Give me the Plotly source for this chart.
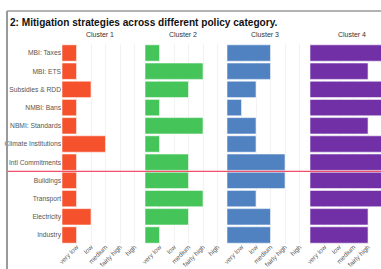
import plotly.graph_objects as go

categories = ["MBI: Taxes", "MBI: ETS", "Subsidies & RDD", "NMBI: Bans", "NBMI: Standards",
              "Climate Institutions", "Intl Commitments", "Buildings", "Transport",
              "Electricity", "Industry"]
level_labels = ["very low", "low", "medium", "fairly high", "high"]
level_values = [1, 2, 3, 4, 5]

cluster_names = ["Cluster 1", "Cluster 2", "Cluster 3", "Cluster 4"]
cluster1 = [1, 1, 2, 1, 1, 3, 1, 1, 1, 2, 1]
cluster2 = [1, 4, 3, 1, 4, 1, 3, 3, 4, 3, 1]
cluster3 = [3, 3, 2, 1, 2, 2, 4, 4, 2, 3, 3]
cluster4 = [5, 4, 5, 5, 4, 5, 5, 5, 5, 4, 4]
cluster_values = [cluster1, cluster2, cluster3, cluster4]
cluster_colors = ["#F4512C", "#45C45A", "#5082C2", "#7230A6"]

W, H = 381, 269
px_per_unit = 14.5
starts = [62, 145, 227, 310]
panel_w = 76

fig = go.Figure()
for i, (name, vals, col) in enumerate(zip(cluster_names, cluster_values, cluster_colors)):
    ax = "" if i == 0 else str(i + 1)
    fig.add_trace(go.Bar(
        x=vals, y=categories, orientation="h", name=name,
        marker=dict(color=col, line=dict(color="rgba(255,255,255,0.55)", width=1)),
        width=0.9, xaxis="x" + ax, yaxis="y", showlegend=False,
    ))
    x0 = starts[i] / W
    x1 = min((starts[i] + panel_w) / W, 1.0)
    rng_max = (min(starts[i] + panel_w, W) - starts[i]) / px_per_unit
    fig.layout["xaxis" + ax] = dict(
        domain=[x0, x1], range=[0, rng_max], anchor="y",
        tickvals=level_values, ticktext=level_labels, tickangle=-45,
        tickfont=dict(size=6.5, color="#555555", family="Liberation Sans"),
        showgrid=True, gridcolor="#f2f2f2", zeroline=False, showline=False,
        ticks="", fixedrange=True, automargin=False, ticklabelstandoff=-3,
    )
    fig.add_annotation(
        x=(starts[i] + panel_w / 2) / W if i < 3 else 352 / W, y=1 - 35 / H,
        xref="paper", yref="paper", text=name, showarrow=False,
        font=dict(size=7, color="#333333", family="Liberation Sans"),
        xanchor="center", yanchor="middle",
    )

row_h = 18.2
top = 53 - row_h / 2
bottom = top + 11 * row_h
fig.update_layout(
    width=W, height=H,
    margin=dict(l=0, r=0, t=0, b=0, autoexpand=False),
    plot_bgcolor="white", paper_bgcolor="white",
    yaxis=dict(
        domain=[1 - bottom / H, 1 - top / H], autorange="reversed",
        categoryorder="array", categoryarray=categories,
        tickfont=dict(size=6.7, color="#555555", family="Liberation Sans"),
        showgrid=False, zeroline=False, showline=False, ticks="",
        fixedrange=True, automargin=False,
    ),
    bargap=0.1,
)

# red separator line between Intl Commitments and Buildings
fig.add_shape(type="line", xref="paper", yref="y", x0=7 / W, x1=1, y0=6.5, y1=6.5,
              line=dict(color="#F0506A", width=1.3), layer="above")

# frame lines of the figure caption box
fig.add_shape(type="line", xref="paper", yref="paper", x0=7 / W, x1=1,
              y0=1 - 11 / H, y1=1 - 11 / H, line=dict(color="#9a9a9a", width=1.5), layer="above")
fig.add_shape(type="line", xref="paper", yref="paper", x0=7 / W, x1=7 / W,
              y0=0, y1=1 - 11 / H, line=dict(color="#9a9a9a", width=2), layer="above")

fig.add_annotation(
    x=8 / W, y=1 - 22 / H, xref="paper", yref="paper",
    text="<b>2: Mitigation strategies across different policy category.</b>",
    showarrow=False, xanchor="left", yanchor="middle",
    font=dict(size=10.1, color="#111111", family="Liberation Sans"),
)

fig.write_html("out.html", config={"displayModeBar": False},
               post_script="document.body.style.margin='0';")
